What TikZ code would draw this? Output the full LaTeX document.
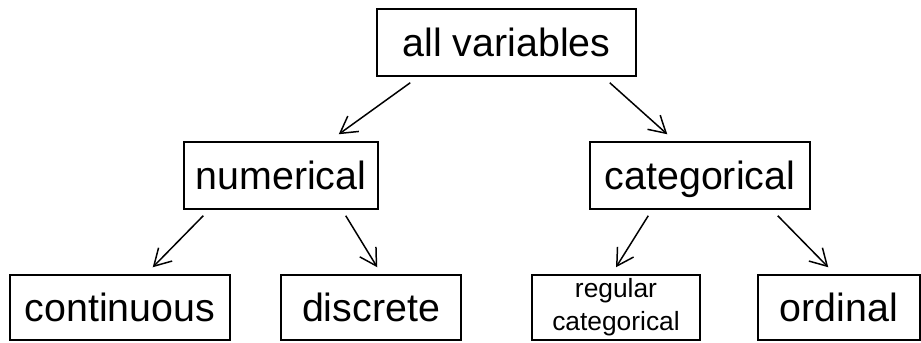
\documentclass[tikz,border=0pt]{standalone}
\usepackage{fontspec}
\setmainfont{Liberation Sans}
\usetikzlibrary{arrows.meta}
\tikzstyle{block} = [draw, line width=0.85pt, rectangle, inner sep=0pt,
    font=\fontsize{22.4}{26}\selectfont, text height=16pt, text depth=0pt,
    minimum height=1.34cm]
\tikzstyle{smallblock} = [draw, line width=0.85pt, rectangle, inner sep=0pt, align=center,
    font=\fontsize{15}{18.8}\selectfont, minimum height=1.3cm]
\tikzstyle{branch} = [-{Straight Barb[length=3.3mm, width=3.8mm]}, line width=0.85pt]

\begin{document}
\begin{tikzpicture}
    \useasboundingbox (0,0) rectangle (18.42,6.84);

    \node [block, minimum width=5.18cm] (all) at (10.13,5.99) {all variables};
    \node [block, minimum width=3.88cm] (num) at (5.62,3.33) {numerical};
    \node [block, minimum width=4.4cm] (cat) at (14.0,3.33) {categorical};

    \node [block, minimum width=4.4cm, minimum height=1.3cm] (cont) at (2.4,0.69) {continuous};
    \node [block, minimum width=3.6cm, minimum height=1.3cm] (disc) at (7.42,0.69) {discrete};
    \node [smallblock, minimum width=3.36cm] (reg) at (12.32,0.69) {regular \\ categorical};
    \node [block, minimum width=3.24cm, minimum height=1.3cm] (ord) at (16.78,0.69) {ordinal};

    \draw [branch] ([xshift=0.68cm, yshift=-0.12cm]all.south west) -- ([xshift=-0.8cm, yshift=0.14cm]num.north east);
    \draw [branch] ([xshift=-0.54cm, yshift=-0.12cm]all.south east) -- ([xshift=1.56cm, yshift=0.14cm]cat.north west);

    \draw [branch] ([xshift=0.4cm, yshift=-0.12cm]num.south west) -- ([xshift=-1.56cm, yshift=0.14cm]cont.north east);
    \draw [branch] ([xshift=-0.66cm, yshift=-0.12cm]num.south east) -- ([xshift=1.94cm, yshift=0.14cm]disc.north west);
    \draw [branch] ([xshift=1.18cm, yshift=-0.12cm]cat.south west) -- ([yshift=0.14cm]reg.north);
    \draw [branch] ([xshift=-0.66cm, yshift=-0.12cm]cat.south east) -- ([xshift=1.42cm, yshift=0.14cm]ord.north west);

\end{tikzpicture}
\end{document}
